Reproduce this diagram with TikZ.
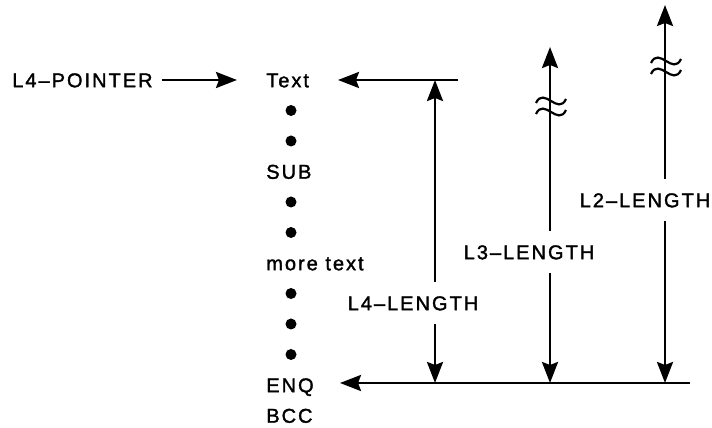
\documentclass[tikz,border=0pt]{standalone}
\usepackage{fontspec}
\setmainfont{Liberation Sans}[LetterSpace=10,FakeBold=1.6]
\usetikzlibrary{arrows.meta,positioning,calc}

\begin{document}
\begin{tikzpicture}[x=1pt,y=1pt,line width=2.6pt,
    lbl/.style={inner sep=0pt,text height=14.5pt,text depth=0pt,font=\fontsize{20}{24}\selectfont},
    len/.style={lbl,inner ysep=12.5pt},
    arr/.style={-{Stealth[length=21pt,width=16pt,inset=3pt]}},
    dot/.style={circle,fill,inner sep=0pt,minimum size=11pt},
    brk/.pic={\draw[line width=2.2pt] (-15,-2) .. controls (-7,15) and (7,-15) .. (15,2);}]
    \useasboundingbox (0,0) rectangle (712,428);

    \node[lbl,anchor=west] (ptr) at (11,348) {L4--POINTER};

    \node[lbl,anchor=west] (txt) at (265,348) {Text};
    \node[lbl,anchor=west] (sub) at (265,256.5) {SUB};
    \node[lbl,anchor=west] (more) at (265,165) {more text};
    \node[lbl,anchor=west] (enq) at (265,43) {ENQ};
    \node[lbl,anchor=west] (bcc) at (265,12.5) {BCC};
    \foreach \y [count=\i] in {317.5,287,226,195.5,134.5,104,73.5}
        \node[dot] (d\i) at (291,\y) {};

    \draw[arr] ([xshift=8pt]ptr.east) -- ([xshift=-28pt]txt.west);

    \coordinate (tr) at (458,348);
    \coordinate (br) at (690,45);
    \draw[arr] (tr) -- (338,348);
    \draw[arr] (br) -- (340,45);

    \node[len] (l4) at (413,125) {L4--LENGTH};
    \coordinate (l4t) at (435,348);
    \draw[arr] (l4.north -| l4t) -- (l4t);
    \draw[arr] (l4.south -| l4t) -- (l4t |- br);

    \node[len] (l3) at (529,176) {L3--LENGTH};
    \coordinate (l3t) at (550,381);
    \draw[arr] (l3.north -| l3t) -- (l3t);
    \draw[arr] (l3.south -| l3t) -- (l3t |- br);
    \pic at (551,327) {brk};
    \pic at (551,316) {brk};

    \node[len] (l2) at (645,228) {L2--LENGTH};
    \coordinate (l2t) at (665,423);
    \draw[arr] (l2.north -| l2t) -- (l2t);
    \draw[arr] (l2.south -| l2t) -- (l2t |- br);
    \pic at (666,367) {brk};
    \pic at (666,356) {brk};
\end{tikzpicture}
\end{document}
